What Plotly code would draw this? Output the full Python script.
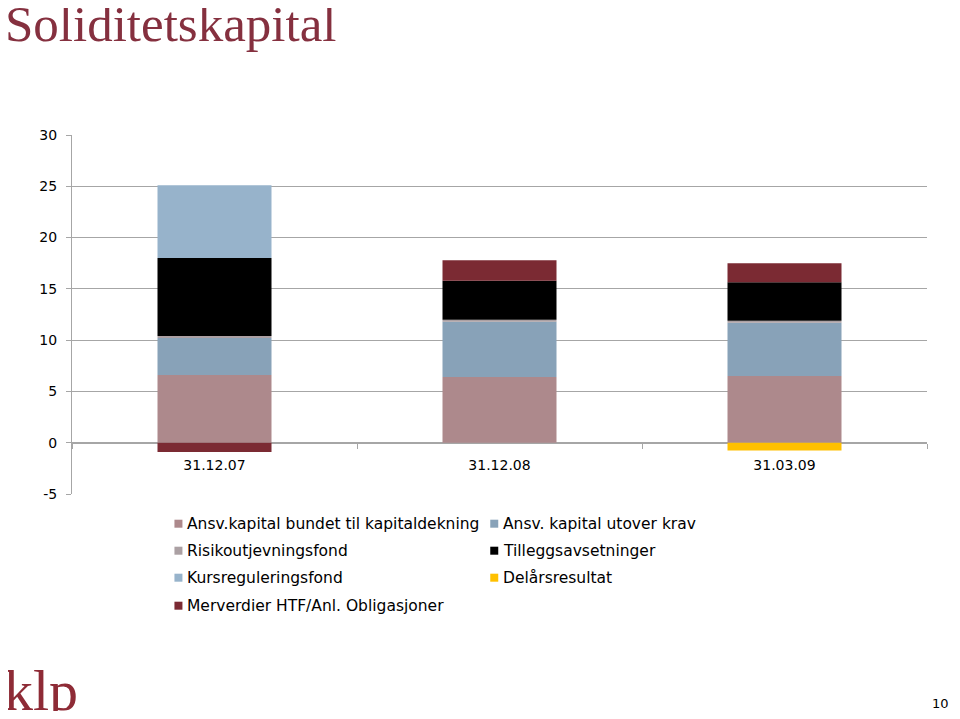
import plotly.graph_objects as go

# Solidity capital per date, stacked (bn NOK)
dates = ["31.12.07", "31.12.08", "31.03.09"]

ansv_bundet = [6.6, 6.4, 6.5]
ansv_utover = [3.6, 5.4, 5.2]
risikofond = [0.2, 0.2, 0.2]
tillegg = [7.6, 3.8, 3.75]
kursreg = [7.1, 0, 0]
merverdier = [-0.9, 2.0, 1.85]
delaars = [0, 0, -0.75]

y_ticks = [-5, 0, 5, 10, 15, 20, 25, 30]
y_labels = ["-5", "0", "5", "10", "15", "20", "25", "30"]

# (name, values, colour) in stacking order
series = [
    ("Ansv.kapital bundet til kapitaldekning", ansv_bundet, "#AD898C"),
    ("Ansv. kapital utover krav", ansv_utover, "#88A2B8"),
    ("Risikoutjevningsfond", risikofond, "#ABA0A3"),
    ("Tilleggsavsetninger", tillegg, "#000000"),
    ("Kursreguleringsfond", kursreg, "#97B3CB"),
    ("Merverdier HTF/Anl. Obligasjoner", merverdier, "#7B2A33"),
    ("Delårsresultat", delaars, "#FFC000"),
]

# legend reads row by row in two columns, like the original slide
legend_order = [0, 1, 2, 3, 4, 6, 5]

GRID = "#A6A6A6"
TXT = "DejaVu Sans"

# plot area in page pixels; the html body adds an 8px margin,
# so the figure is kept small enough not to overflow the window
PL, PR, PT, PB = 71.5, 927, 135.3, 494.3
W, H = 944, 703


def px(x):
    return (x - PL) / (PR - PL)


def py(y):
    return (PB - y) / (PB - PT)


fig = go.Figure()
for name, vals, col in series:
    fig.add_trace(go.Bar(
        x=dates, y=vals, name=name,
        marker=dict(color=col, line=dict(width=0)),
        showlegend=False,
    ))

fig.update_layout(
    width=W, height=H,
    barmode="relative",
    bargap=0.6,
    plot_bgcolor="white",
    paper_bgcolor="white",
    margin=dict(l=PL - 8, r=W - (PR - 8), t=PT - 8, b=H - (PB - 8),
                autoexpand=False),
    showlegend=False,
    font=dict(family=TXT, size=14, color="black"),
)

fig.update_yaxes(
    range=[-5, 30],
    tickvals=y_ticks, ticktext=y_labels,
    showgrid=True, gridcolor=GRID, gridwidth=1,
    zeroline=False,
    showline=True, linecolor=GRID, linewidth=1,
    ticks="outside", ticklen=5, tickcolor=GRID,
    ticklabelstandoff=6,
    tickfont=dict(family=TXT, size=14),
)

# category axis sits on y = 0, as in Excel
fig.update_xaxes(
    type="category",
    range=[-0.5, 2.5],
    anchor="free", position=5 / 35,
    showgrid=False,
    showline=True, linecolor=GRID, linewidth=1,
    layer="below traces",
    tickson="boundaries",
    ticks="outside", ticklen=5, tickcolor=GRID,
    ticklabelstandoff=9,
    tickfont=dict(family=TXT, size=14),
)

# slide title
fig.add_annotation(
    text="Soliditetskapital", xref="paper", yref="paper",
    x=px(2), y=py(-6),
    xanchor="left", yanchor="top", showarrow=False,
    font=dict(family="Liberation Serif", size=51, color="#85303F"),
)

# hand-made legend, two columns
col_x = [174, 490]
row_y = [524, 551, 578, 606]
for i, idx in enumerate(legend_order):
    name, _, col = series[idx]
    cx = col_x[i % 2]
    cy = row_y[i // 2]
    fig.add_shape(
        type="rect", xref="paper", yref="paper",
        x0=px(cx), x1=px(cx + 8),
        y0=py(cy + 4), y1=py(cy - 4),
        fillcolor=col, line=dict(width=0),
    )
    fig.add_annotation(
        text=name, xref="paper", yref="paper",
        x=px(cx + 11), y=py(cy + 0.5),
        xanchor="left", yanchor="middle", showarrow=False,
        font=dict(family=TXT, size=15.5, color="black"),
    )

# logo and page number
fig.add_annotation(
    text="klp", xref="paper", yref="paper",
    x=px(1), y=py(725),
    xanchor="left", yanchor="bottom", showarrow=False,
    font=dict(family="Liberation Serif", size=58, color="#8E2B36"),
)
fig.add_annotation(
    text="10", xref="paper", yref="paper",
    x=px(951), y=py(713),
    xanchor="right", yanchor="bottom", showarrow=False,
    font=dict(family=TXT, size=13),
)

fig.write_html("out.html")
